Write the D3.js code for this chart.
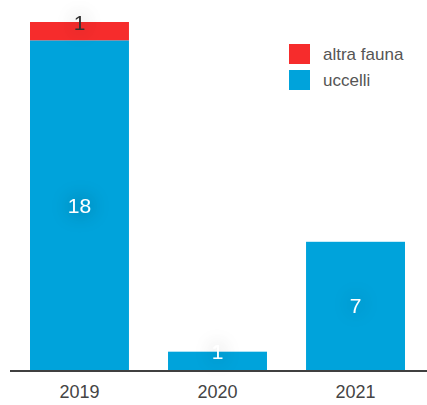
<!DOCTYPE html>
<html>
<head>
<meta charset="utf-8">
<script src="https://cdn.jsdelivr.net/npm/d3@7"></script>
<style>
  body { margin: 0; background: #fff; }
  text { font-family: "Liberation Sans", Arial, sans-serif; }
</style>
</head>
<body>
<div id="chart-area"></div>
<script>
// data
const years = ["2019", "2020", "2021"]
const uccelli = [18, 1, 7]
const altraFauna = [1, 0, 0]
const seriesNames = ["uccelli", "altra fauna"]
const seriesColors = ["#00A3DB", "#F62C2C"]

const WIDTH = 427, HEIGHT = 405

const svg = d3.select("#chart-area").append("svg")
  .attr("width", WIDTH)
  .attr("height", HEIGHT)

// glow behind labels
const defs = svg.append("defs")
const f = defs.append("filter").attr("id", "glow")
  .attr("x", "-200%").attr("y", "-200%").attr("width", "500%").attr("height", "500%")
f.append("feGaussianBlur").attr("in", "SourceAlpha").attr("stdDeviation", 10).attr("result", "b")
f.append("feComponentTransfer").attr("in", "b").attr("result", "s")
  .append("feFuncA").attr("type", "linear").attr("slope", 0.6)
const fm = f.append("feMerge")
fm.append("feMergeNode").attr("in", "s")
fm.append("feMergeNode").attr("in", "SourceGraphic")

const data = years.map((y, i) => ({ year: y, uccelli: uccelli[i], "altra fauna": altraFauna[i] }))
const stack = d3.stack().keys(seriesNames)(data)

const x = d3.scaleBand()
  .domain(years)
  .range([10.5, 424.5])
  .paddingInner(0.283)
  .paddingOuter(0.1413)

const y = d3.scaleLinear()
  .domain([0, 19])
  .range([370, 22])

const color = d3.scaleOrdinal().domain(seriesNames).range(seriesColors)

// bars
const layers = svg.selectAll(".layer")
  .data(stack)
  .enter().append("g")
  .attr("class", "layer")
  .attr("fill", d => color(d.key))

layers.selectAll("rect")
  .data(d => d)
  .enter().append("rect")
  .attr("x", d => x(d.data.year))
  .attr("width", x.bandwidth())
  .attr("y", d => y(d[1]))
  .attr("height", d => y(d[0]) - y(d[1]))

// labels
stack.forEach(layer => {
  layer.forEach(d => {
    const v = d[1] - d[0]
    if (!v) return
    const top = y(d[1]), bot = y(d[0])
    const cy = (bot - top) < 30 ? top : (top + bot) / 2
    svg.append("text")
      .attr("x", x(d.data.year) + x.bandwidth() / 2)
      .attr("y", cy)
      .attr("dy", "0.36em")
      .attr("text-anchor", "middle")
      .attr("font-size", "21px")
      .attr("fill", layer.key === "uccelli" ? "#fff" : "#333")
      .attr("filter", "url(#glow)")
      .text(v)
  })
})

// x axis
const xAxis = svg.append("g")
  .attr("transform", "translate(0, 371)")
  .call(d3.axisBottom(x).tickSize(0).tickPadding(14))
xAxis.select(".domain").attr("d", "M10,0H427").attr("stroke", "#000").attr("stroke-width", 1.5)
xAxis.selectAll(".tick text")
  .attr("font-size", "18px")
  .attr("fill", "#444")
  .style("font-family", "'Liberation Sans', Arial, sans-serif")

// legend
const legendItems = ["altra fauna", "uccelli"]
const legend = svg.append("g").attr("transform", "translate(289, 44)")
legendItems.forEach((name, i) => {
  legend.append("rect")
    .attr("x", 0)
    .attr("y", i * 26)
    .attr("width", 21)
    .attr("height", 20)
    .attr("fill", color(name))
  legend.append("text")
    .attr("x", 34)
    .attr("y", i * 26 + 10)
    .attr("dy", "0.36em")
    .attr("font-size", "17px")
    .attr("fill", "#555")
    .text(name)
})
</script>
</body>
</html>
